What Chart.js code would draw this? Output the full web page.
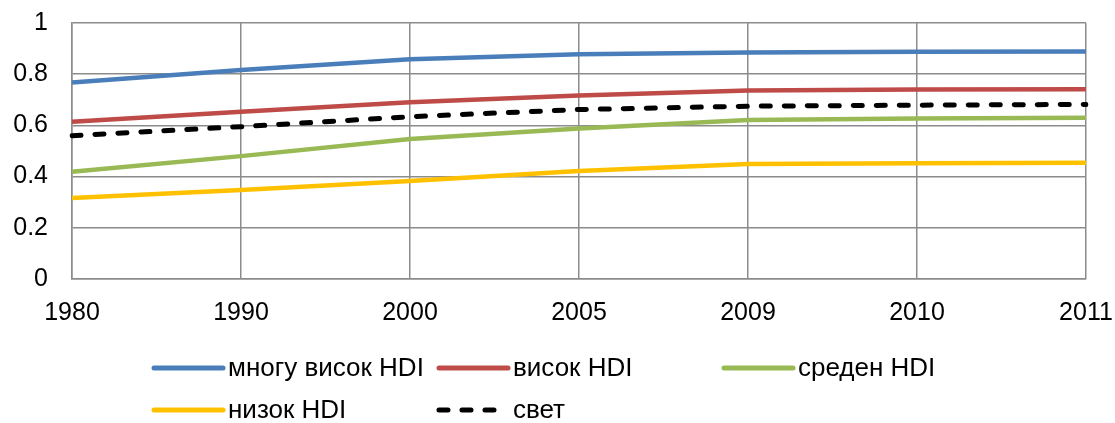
<!DOCTYPE html>
<html>
<head>
<meta charset="utf-8">
<script src="https://cdn.jsdelivr.net/npm/chart.js@4"></script>
<style>
  html, body { margin: 0; padding: 0; background: #fff; }
  #wrap { width: 1115px; height: 423px; }
</style>
</head>
<body>
<div id="wrap"><canvas id="hdi-chart" width="1115" height="423"></canvas></div>
<script>
// Податоци
const years = ['1980', '1990', '2000', '2005', '2009', '2010', '2011'];
const veryHigh = [0.768, 0.816, 0.858, 0.878, 0.885, 0.888, 0.889];
const high = [0.614, 0.653, 0.690, 0.717, 0.736, 0.740, 0.741];
const medium = [0.419, 0.480, 0.547, 0.588, 0.621, 0.627, 0.630];
const low = [0.316, 0.348, 0.383, 0.422, 0.449, 0.452, 0.454];
const world = [0.560, 0.595, 0.634, 0.662, 0.675, 0.679, 0.682];

const labels = ['многу висок HDI', 'висок HDI', 'среден HDI', 'низок HDI', 'свет'];
const colors = ['#4a7ebb', '#be4b48', '#98b954', '#ffc000', '#000000'];

const FONT = '"Liberation Sans", Arial, sans-serif';

// Легенда во две редици, со фиксни колони
const gridLegend = {
    id: 'gridLegend',
    afterDraw(chart) {
        const ctx = chart.ctx;
        const colX = [152, 437, 722];
        const rowY = [368, 410];
        ctx.save();
        chart.data.datasets.forEach(function (ds, i) {
            const x = colX[i % 3];
            const y = rowY[Math.floor(i / 3)];
            ctx.strokeStyle = ds.borderColor;
            ctx.lineWidth = 5;
            ctx.lineCap = 'round';
            ctx.setLineDash(ds.borderDash || []);
            ctx.beginPath();
            ctx.moveTo(x + 2, y);
            ctx.lineTo(x + 71, y);
            ctx.stroke();
            ctx.setLineDash([]);
            ctx.fillStyle = '#000';
            ctx.font = '26px ' + FONT;
            ctx.textBaseline = 'middle';
            ctx.fillText(ds.label, x + 76, y + 1);
        });
        ctx.restore();
    }
};

function makeSet(i, data, extra) {
    return Object.assign({
        label: labels[i],
        data: data,
        borderColor: colors[i],
        backgroundColor: colors[i],
        borderWidth: 4.5,
        pointRadius: 0,
        tension: 0,
        fill: false
    }, extra || {});
}

// тик паддингот не треба да ја поместува површината на графикот
function noPad(axis) {
    axis.paddingTop = 0;
    axis.paddingBottom = 0;
    axis.paddingLeft = 0;
    axis.paddingRight = 0;
}

new Chart(document.getElementById('hdi-chart').getContext('2d'), {
    type: 'line',
    data: {
        labels: years,
        datasets: [
            makeSet(0, veryHigh),
            makeSet(1, high),
            makeSet(2, medium),
            makeSet(3, low),
            makeSet(4, world, { borderDash: [9, 14], borderCapStyle: 'round', borderWidth: 5 })
        ]
    },
    options: {
        responsive: false,
        animation: false,
        layout: { autoPadding: false, padding: { top: 23, right: 29, bottom: 76, left: 0 } },
        plugins: {
            legend: { display: false },
            tooltip: { enabled: false }
        },
        scales: {
            x: {
                offset: false,
                grid: { color: '#8c8c8c', lineWidth: 1.5, drawTicks: false },
                border: { color: '#8c8c8c', width: 1.5 },
                ticks: { color: '#000', padding: 19, maxRotation: 0, font: { family: FONT, size: 25 } },
                afterFit: noPad
            },
            y: {
                min: 0,
                max: 1,
                grid: { color: '#8c8c8c', lineWidth: 1.5, drawTicks: false },
                border: { color: '#8c8c8c', width: 1.5 },
                ticks: {
                    stepSize: 0.2,
                    color: '#000',
                    padding: 24,
                    font: { family: FONT, size: 25 },
                    callback: function (v) { return String(Math.round(v * 10) / 10); }
                },
                afterFit: function (axis) {
                    axis.width = 72;
                    noPad(axis);
                }
            }
        }
    },
    plugins: [gridLegend]
});
</script>
</body>
</html>
